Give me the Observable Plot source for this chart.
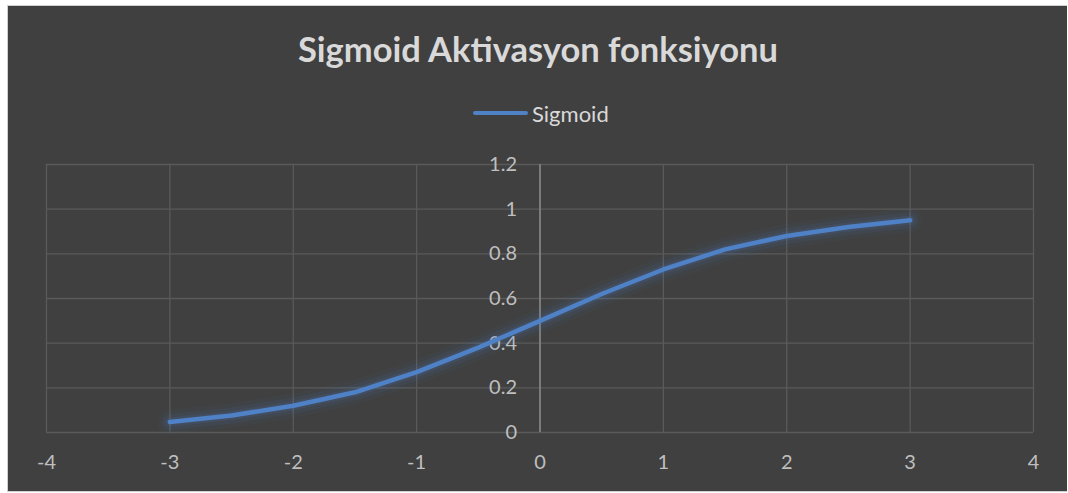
<!DOCTYPE html>
<html><head><meta charset="utf-8">
<script src="https://cdn.jsdelivr.net/npm/d3@7"></script>
<script src="https://cdn.jsdelivr.net/npm/@observablehq/plot@0.6"></script>
<style>
html,body{margin:0;padding:0;background:#fff;width:1068px;height:493px;overflow:hidden;}
#panel{position:absolute;left:7px;top:5px;width:1060px;height:487px;background:#404040;box-sizing:border-box;border:1px solid #d0d0d0;border-right:none;font-family:Lato,"Open Sans",sans-serif;}
#title{position:absolute;left:0;top:23px;width:1060px;text-align:center;font-weight:bold;font-size:34.5px;line-height:40px;color:#d9d9d9;}
#legend{position:absolute;left:465px;top:91px;height:32px;display:flex;align-items:center;color:#d9d9d9;font-size:22px;}
#legend .sw{width:55px;height:4px;background:#4f81c7;border-radius:2px;margin-right:4px;}
#chart{position:absolute;left:-1px;top:119px;}
</style></head>
<body>
<div id="panel">
  <div id="title"></div>
  <div id="legend"><span class="sw"></span><span id="legtext"></span></div>
  <div id="chart"></div>
</div>
<script>
const titleText = "Sigmoid Aktivasyon fonksiyonu";
const seriesName = "Sigmoid";
const xValues = [-3, -2.5, -2, -1.5, -1, -0.5, 0, 0.5, 1, 1.5, 2, 2.5, 3];
const yValues = [0.047, 0.076, 0.12, 0.18, 0.27, 0.38, 0.5, 0.62, 0.73, 0.82, 0.88, 0.92, 0.95];
const xTicks = [-4, -3, -2, -1, 0, 1, 2, 3, 4];
const xTickLabels = ["-4", "-3", "-2", "-1", "0", "1", "2", "3", "4"];
const yTicks = [0, 0.2, 0.4, 0.6, 0.8, 1, 1.2];
const yTickLabels = ["0", "0.2", "0.4", "0.6", "0.8", "1", "1.2"];

document.getElementById("title").textContent = titleText;
document.getElementById("legtext").textContent = seriesName;

const data = xValues.map((x, i) => ({x, y: yValues[i]}));
const yLab = yTicks.map((v, i) => ({v, t: yTickLabels[i]}));
const lineColor = "#4f81c7";

const plot = Plot.plot({
  width: 1060,
  height: 366,
  marginLeft: 39,
  marginRight: 34,
  marginTop: 39,
  marginBottom: 59,
  style: {background: "transparent", color: "#bfbfbf", fontFamily: "Lato, 'Open Sans', sans-serif", fontSize: "20px"},
  x: {domain: [-4, 4], label: null, axis: null},
  y: {domain: [0, 1.2], label: null, axis: null},
  marks: [
    Plot.gridX(xTicks, {stroke: "#5a5a5a", strokeOpacity: 1, strokeWidth: 1.3}),
    Plot.gridY(yTicks, {stroke: "#5a5a5a", strokeOpacity: 1, strokeWidth: 1.3}),
    Plot.ruleX([0], {stroke: "#8a8a8a", strokeWidth: 1.5}),
    Plot.axisX(xTicks, {tickSize: 0, tickPadding: 22, fill: "#bfbfbf", fontSize: 20, label: null,
      tickFormat: d => xTickLabels[xTicks.indexOf(d)]}),
    Plot.text(yLab, {x: 0, y: "v", text: "t", dx: -23, textAnchor: "end", fill: "#bfbfbf", fontSize: 20}),
    Plot.line(data, {x: "x", y: "y", stroke: lineColor, strokeWidth: 24, strokeOpacity: 0.05, strokeLinecap: "round"}),
    Plot.line(data, {x: "x", y: "y", stroke: lineColor, strokeWidth: 16, strokeOpacity: 0.08, strokeLinecap: "round"}),
    Plot.line(data, {x: "x", y: "y", stroke: lineColor, strokeWidth: 9, strokeOpacity: 0.13, strokeLinecap: "round"}),
    Plot.line(data, {x: "x", y: "y", stroke: lineColor, strokeWidth: 4.5, strokeLinecap: "round"})
  ]
});
document.getElementById("chart").appendChild(plot);
</script>
</body></html>
